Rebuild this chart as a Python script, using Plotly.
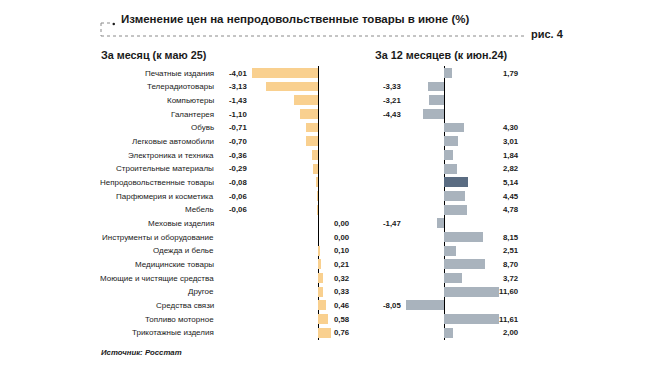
import plotly.graph_objects as go

# page body adds an 8px margin; the figure is sized to fill the rest of the window
OFF = 8
W, H = 651 - OFF, 379 - OFF

categories = ["Печатные издания", "Телерадиотовары", "Компьютеры", "Галантерея", "Обувь",
              "Легковые автомобили", "Электроника и техника", "Строительные материалы",
              "Непродовольственные товары", "Парфюмерия и косметика", "Мебель",
              "Меховые изделия", "Инструменты и оборудование", "Одежда и белье",
              "Медицинские товары", "Моющие и чистящие средства", "Другое",
              "Средства связи", "Топливо моторное", "Трикотажные изделия"]
month_values = [-4.01, -3.13, -1.43, -1.10, -0.71, -0.70, -0.36, -0.29, -0.08, -0.06, -0.06,
                0.00, 0.00, 0.10, 0.21, 0.32, 0.33, 0.46, 0.58, 0.76]
year_values = [1.79, -3.33, -3.21, -4.43, 4.30, 3.01, 1.84, 2.82, 5.14, 4.45, 4.78,
               -1.47, 8.15, 2.51, 8.70, 3.72, 11.60, -8.05, 11.61, 2.00]
highlight = "Непродовольственные товары"

title_text = "Изменение цен на непродовольственные товары в июне (%)"
fig_label = "рис. 4"
left_title = "За месяц (к маю 25)"
right_title = "За 12 месяцев (к июн.24)"
source_text = "Источник: Росстат"

FONT = "Liberation Sans, Arial, sans-serif"
TXT = "#1a1a1a"
ORANGE = "#f9d08f"
GREY = "#a9b3bd"
DARK = "#5a6c82"

def px(x):
    return (x - OFF) / W

def py(y):
    return 1 - (y - OFF) / H

def fmt(v):
    return f"{v:.2f}".replace(".", ",")

ys = list(range(len(categories)))

fig = go.Figure()
fig.add_trace(go.Bar(
    x=month_values, y=ys, orientation="h", xaxis="x", yaxis="y",
    marker=dict(color=ORANGE, line=dict(width=0)), width=0.72, hoverinfo="skip"))
year_colors = [DARK if c == highlight else GREY for c in categories]
fig.add_trace(go.Bar(
    x=year_values, y=ys, orientation="h", xaxis="x2", yaxis="y2",
    marker=dict(color=year_colors, line=dict(width=0)), width=0.72, hoverinfo="skip"))

# geometry (pixels in the window)
zero_l, scale_l = 318, 16.5
dom_l = (248, 336)
zero_r, scale_r = 444, 4.74
dom_r = (400, 502)
y_top, y_bot = 66.2, 339.8

xr_l = [(dom_l[0] - zero_l) / scale_l, (dom_l[1] - zero_l) / scale_l]
xr_r = [(dom_r[0] - zero_r) / scale_r, (dom_r[1] - zero_r) / scale_r]

axis_common = dict(showgrid=False, showticklabels=False, ticks="", showline=False,
                   zeroline=True, zerolinecolor="#000000", zerolinewidth=1, fixedrange=True)
yaxis_common = dict(showgrid=False, showticklabels=False, ticks="", showline=False,
                    zeroline=False, range=[len(categories) - 0.5, -0.5], fixedrange=True,
                    domain=[py(y_bot), py(y_top)])

LBL = 8
VAL = 7.8
annotations = []
for i, (c, mv, yv) in enumerate(zip(categories, month_values, year_values)):
    annotations.append(dict(x=px(216), y=i, xref="paper", yref="y", text=c, showarrow=False,
                            xanchor="right", yanchor="middle",
                            font=dict(family=FONT, size=LBL, color=TXT)))
    if mv < 0:
        annotations.append(dict(x=px(227), y=i, xref="paper", yref="y", text=f"<b>{fmt(mv)}</b>",
                                showarrow=False, xanchor="left", yanchor="middle",
                                font=dict(family=FONT, size=VAL, color=TXT)))
    else:
        annotations.append(dict(x=px(332), y=i, xref="paper", yref="y", text=f"<b>{fmt(mv)}</b>",
                                showarrow=False, xanchor="left", yanchor="middle",
                                font=dict(family=FONT, size=VAL, color=TXT)))
    if yv < 0:
        annotations.append(dict(x=px(381), y=i, xref="paper", yref="y2", text=f"<b>{fmt(yv)}</b>",
                                showarrow=False, xanchor="left", yanchor="middle",
                                font=dict(family=FONT, size=VAL, color=TXT)))
    else:
        annotations.append(dict(x=px(521), y=i, xref="paper", yref="y2", text=f"<b>{fmt(yv)}</b>",
                                showarrow=False, xanchor="right", yanchor="middle",
                                font=dict(family=FONT, size=VAL, color=TXT)))

annotations += [
    dict(x=px(119), y=py(19), xref="paper", yref="paper", text=f"<b>{title_text}</b>",
         showarrow=False, xanchor="left", yanchor="middle",
         font=dict(family=FONT, size=11.5, color=TXT)),
    dict(x=px(529), y=py(34), xref="paper", yref="paper", text=f"<b>{fig_label}</b>",
         showarrow=False, xanchor="left", yanchor="middle",
         font=dict(family=FONT, size=11, color=TXT)),
    dict(x=px(99), y=py(55), xref="paper", yref="paper", text=f"<b>{left_title}</b>",
         showarrow=False, xanchor="left", yanchor="middle",
         font=dict(family=FONT, size=10.8, color=TXT)),
    dict(x=px(373), y=py(55), xref="paper", yref="paper", text=f"<b>{right_title}</b>",
         showarrow=False, xanchor="left", yanchor="middle",
         font=dict(family=FONT, size=10.8, color=TXT)),
    dict(x=px(99), y=py(352), xref="paper", yref="paper", text=f"<b><i>{source_text}</i></b>",
         showarrow=False, xanchor="left", yanchor="middle",
         font=dict(family=FONT, size=7.8, color=TXT)),
]

shapes = [
    dict(type="line", xref="paper", yref="paper", x0=px(101), x1=px(111), y0=py(23), y1=py(23),
         line=dict(color="#8a8a8a", width=1, dash="dot")),
    dict(type="line", xref="paper", yref="paper", x0=px(101), x1=px(101), y0=py(23), y1=py(36),
         line=dict(color="#8a8a8a", width=1, dash="dot")),
    dict(type="line", xref="paper", yref="paper", x0=px(101), x1=px(525), y0=py(36), y1=py(36),
         line=dict(color="#8a8a8a", width=1, dash="dot")),
    dict(type="circle", xref="paper", yref="paper", x0=px(112.5), x1=px(115), y0=py(22.7), y1=py(25.2),
         fillcolor=TXT, line=dict(width=0)),
]

fig.update_layout(
    width=W, height=H, margin=dict(l=0, r=0, t=0, b=0),
    paper_bgcolor="white", plot_bgcolor="rgba(0,0,0,0)",
    showlegend=False, bargap=0,
    xaxis=dict(domain=[px(dom_l[0]), px(dom_l[1])], range=xr_l, anchor="y", **axis_common),
    yaxis=dict(anchor="x", **yaxis_common),
    xaxis2=dict(domain=[px(dom_r[0]), px(dom_r[1])], range=xr_r, anchor="y2", **axis_common),
    yaxis2=dict(anchor="x2", **yaxis_common),
    annotations=annotations, shapes=shapes,
)

fig.write_html("out.html")
